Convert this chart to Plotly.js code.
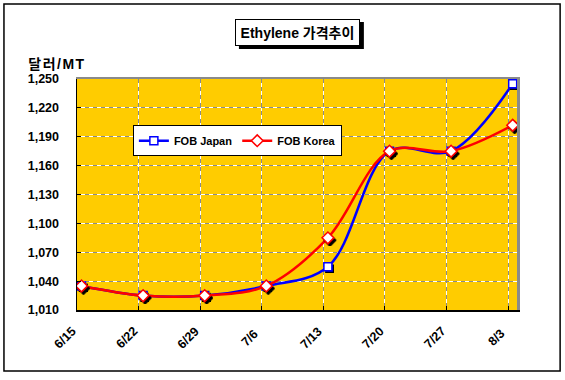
<!DOCTYPE html>
<html><head><meta charset="utf-8">
<script src="https://cdn.plot.ly/plotly-3.0.1.min.js"></script>
<style>html,body{margin:0;padding:0;background:#fff}#c{width:565px;height:380px}</style>
</head><body><div id="c"></div>
<script>
const categories = ['6/15','6/22','6/29','7/6','7/13','7/20','7/27','8/3'];
const fobJapan = [1035, 1025, 1025, 1035, 1055, 1175, 1175, 1245];
const fobKorea = [1035, 1025, 1025, 1035, 1085, 1175, 1175, 1202];
const chartTitle = 'Ethylene 가격추이';
const yUnit = '달러/MT';

const idx = categories.map((_, i) => i);
const gridOff = 0.073;
const xr = [-gridOff, 7.07];
const yr = [1010, 1250];
const F = 'Liberation Sans, Arial, Noto Sans CJK KR, sans-serif';

const traces = [
  {x: idx, y: fobJapan, name: 'FOB Japan', mode: 'lines+markers',
   line: {color: '#0000FF', width: 2.5, shape: 'spline', smoothing: 1},
   marker: {symbol: 'square', size: 8, color: '#fff', line: {color: '#0000FF', width: 1.5}}},
  {x: idx, y: fobKorea, name: 'FOB Korea', mode: 'lines+markers',
   line: {color: '#FF0000', width: 2.5, shape: 'spline', smoothing: 1},
   marker: {symbol: 'diamond', size: 9, color: '#fff', line: {color: '#FF0000', width: 1.5}}},
  {x: [], y: [], xaxis: 'x3', yaxis: 'y3', mode: 'markers', showlegend: false, hoverinfo: 'skip'}
];

const xLabelAnns = categories.map((c, i) => ({
  text: c, xref: 'x', yref: 'paper', x: i - gridOff, y: 0, xshift: -12, yshift: -28,
  xanchor: 'center', yanchor: 'middle', textangle: -45, showarrow: false,
  font: {family: F, size: 12.5, color: '#000', weight: 'bold'}
}));

const layout = {
  width: 565, height: 380,
  margin: {l: 77, r: 48, t: 79, b: 70},
  paper_bgcolor: '#fff', plot_bgcolor: '#FFCC00',
  font: {family: F, size: 12, color: '#000', weight: 'bold'},
  showlegend: true,
  legend: {orientation: 'h', x: 0.127, y: 0.80, xanchor: 'left', yanchor: 'top',
    bgcolor: '#fff', bordercolor: '#000', borderwidth: 1,
    font: {family: F, size: 11, weight: 'bold'}, itemwidth: 30, tracegroupgap: 0},
  xaxis: {type: 'linear', range: xr, tickvals: idx.map(i => i - gridOff), showticklabels: false,
    showgrid: true, gridcolor: '#fff', gridwidth: 1, zeroline: false,
    showline: true, linecolor: '#000', linewidth: 1.5, ticks: 'inside', ticklen: 4, tickcolor: '#000'},
  yaxis: {range: yr, tick0: 1010, dtick: 30, tickformat: ',d', showgrid: true, gridcolor: '#fff', gridwidth: 1,
    zeroline: false, showline: true, linecolor: '#000', linewidth: 1.5, ticks: 'inside', ticklen: 4, tickcolor: '#000',
    ticklabelstandoff: 14, tickfont: {family: F, size: 12.5, weight: 'bold'}},
  xaxis3: {overlaying: 'x', anchor: 'y3', side: 'top', range: xr, tickvals: idx.map(i => i - gridOff), showticklabels: false,
    showgrid: true, gridcolor: '#8a8a8a', griddash: '4px,4px', gridwidth: 1, zeroline: false,
    showline: true, linecolor: '#8a8a8a', linewidth: 2, ticks: ''},
  yaxis3: {overlaying: 'y', anchor: 'x3', side: 'right', range: yr, tick0: 1010, dtick: 30, showticklabels: false,
    showgrid: true, gridcolor: '#8a8a8a', griddash: '4px,4px', gridwidth: 1, zeroline: false,
    showline: true, linecolor: '#8a8a8a', linewidth: 3, ticks: ''},
  annotations: [
    {text: chartTitle, xref: 'paper', yref: 'paper', x: 0.5, y: 1.203, xanchor: 'center', yanchor: 'middle',
     showarrow: false, width: 117, height: 19,
     bgcolor: '#fff', bordercolor: '#000', borderwidth: 1, borderpad: 3,
     font: {family: F, size: 14, color: '#000', weight: 'bold'}},
    {text: yUnit, xref: 'paper', yref: 'paper', x: -0.045, y: 1.065, xanchor: 'center', yanchor: 'middle',
     showarrow: false, font: {family: F, size: 14, color: '#000', weight: 'bold'}}
  ].concat(xLabelAnns),
  shapes: [
    {type: 'rect', xref: 'paper', yref: 'paper', x0: 0.368, x1: 0.652, y0: 1.13, y1: 1.247,
     line: {width: 0}, fillcolor: '#000', layer: 'above'},
    {type: 'rect', xref: 'paper', yref: 'paper', x0: -0.166, x1: 1.098, y0: -0.264, y1: 1.325,
     line: {color: '#000', width: 1.5}, fillcolor: 'rgba(0,0,0,0)', layer: 'above'}
  ]
};
Plotly.newPlot('c', traces, layout, {displayModeBar: false, staticPlot: true}).then(() => {
  const svg = document.querySelector('#c svg.main-svg');
  const ns = 'http://www.w3.org/2000/svg';
  let defs = svg.querySelector('defs');
  if (!defs) { defs = document.createElementNS(ns, 'defs'); svg.insertBefore(defs, svg.firstChild); }
  const f = document.createElementNS(ns, 'filter');
  f.setAttribute('id', 'mshadow'); f.setAttribute('x', '-20%'); f.setAttribute('y', '-20%');
  f.setAttribute('width', '140%'); f.setAttribute('height', '140%');
  const d = document.createElementNS(ns, 'feDropShadow');
  d.setAttribute('dx', '2'); d.setAttribute('dy', '2.5'); d.setAttribute('stdDeviation', '0');
  d.setAttribute('flood-color', '#000'); d.setAttribute('flood-opacity', '1');
  f.appendChild(d); defs.appendChild(f);
  document.querySelectorAll('#c .cartesianlayer .scatterlayer .trace .points path').forEach(p => p.setAttribute('filter', 'url(#mshadow)'));
  document.querySelectorAll('#c .annotation-text').forEach(t => { if (t.textContent === yUnit) t.style.letterSpacing = '1.5px'; });
});
</script></body></html>
